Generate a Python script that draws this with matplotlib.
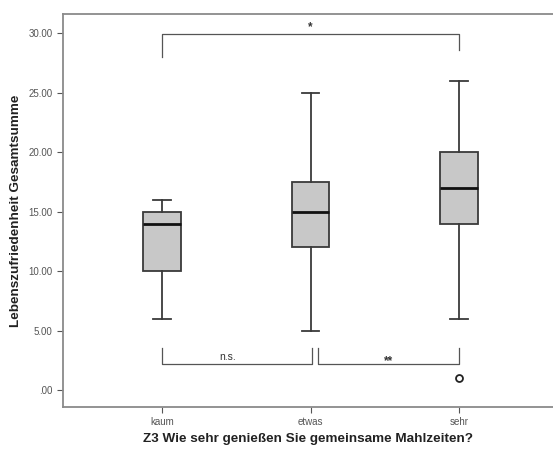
import matplotlib
matplotlib.use("Agg")
import matplotlib.pyplot as plt

categories = ["kaum", "etwas", "sehr"]
whisker_low = [6, 5, 6]
q1 = [10, 12, 14]
median = [14, 15, 17]
q3 = [15, 17.5, 20]
whisker_high = [16, 25, 26]
outliers = [[], [], [1.0]]

yticks = [0, 5, 10, 15, 20, 25, 30]
ytick_labels = [".00", "5.00", "10.00", "15.00", "20.00", "25.00", "30.00"]

# significance brackets: (x1, x2, y_bar, y_leg1, y_leg2, label, label_y)
brackets = [
    (0, 2, 29.9, 28.0, 28.6, "*", 30.5),
    (0, 1.007, 2.15, 3.5, 3.5, "n.s.", 2.8),
    (1.052, 2, 2.15, 3.5, 3.5, "**", 2.45),
]

plt.rcParams['font.family'] = ['Liberation Sans', 'DejaVu Sans']

fig = plt.figure(figsize=(5.53, 4.5), dpi=100)
ax = fig.add_axes([0.1139, 0.0956, 0.8861, 0.8733])

stats = []
for i, c in enumerate(categories):
    stats.append(dict(label=c, whislo=whisker_low[i], q1=q1[i], med=median[i],
                      q3=q3[i], whishi=whisker_high[i], fliers=outliers[i]))

line_c = "#3a3a3a"
ax.bxp(stats, positions=range(len(categories)), widths=0.25, patch_artist=True,
       boxprops=dict(facecolor="#c8c8c8", edgecolor=line_c, linewidth=1.3),
       medianprops=dict(color="#111111", linewidth=2.0),
       whiskerprops=dict(color=line_c, linewidth=1.3),
       capprops=dict(color=line_c, linewidth=1.3),
       capwidths=0.12,
       flierprops=dict(marker="o", markerfacecolor="white", markeredgecolor="#222222",
                       markersize=5, markeredgewidth=1.3))

for x1, x2, yb, yl1, yl2, lab, ly in brackets:
    ax.plot([x1, x1, x2, x2], [yl1, yb, yb, yl2], color="#555555", linewidth=0.9)
    ax.text((x1 + x2) / 2 - (0.06 if lab == "n.s." else 0), ly, lab, ha="center", va="center",
            fontsize=8.5 if lab != "n.s." else 7.5, color="#333333",
            fontweight="bold" if "*" in lab else "normal")

ax.set_xlim(-0.667, 0.633 + 2)
ax.set_ylim(-1.43, 31.62)
ax.set_yticks(yticks)
ax.set_yticklabels(ytick_labels)
ax.set_xticks(range(len(categories)))
ax.set_xticklabels(categories)
ax.tick_params(axis="both", labelsize=7, colors="#555555", length=4, width=0.8,
               labelcolor="#555555")

for s in ["left", "bottom", "top"]:
    ax.spines[s].set_color("#8a8a8a")
    ax.spines[s].set_linewidth(1.3)
ax.spines["right"].set_visible(False)

ax.set_xlabel("Z3 Wie sehr genießen Sie gemeinsame Mahlzeiten?", fontsize=9.7,
              fontweight="bold", color="#222222", labelpad=4)
ax.set_ylabel("Lebenszufriedenheit Gesamtsumme", fontsize=9.7, fontweight="bold",
              color="#222222", labelpad=5)

fig.savefig("out.png", dpi=100)
